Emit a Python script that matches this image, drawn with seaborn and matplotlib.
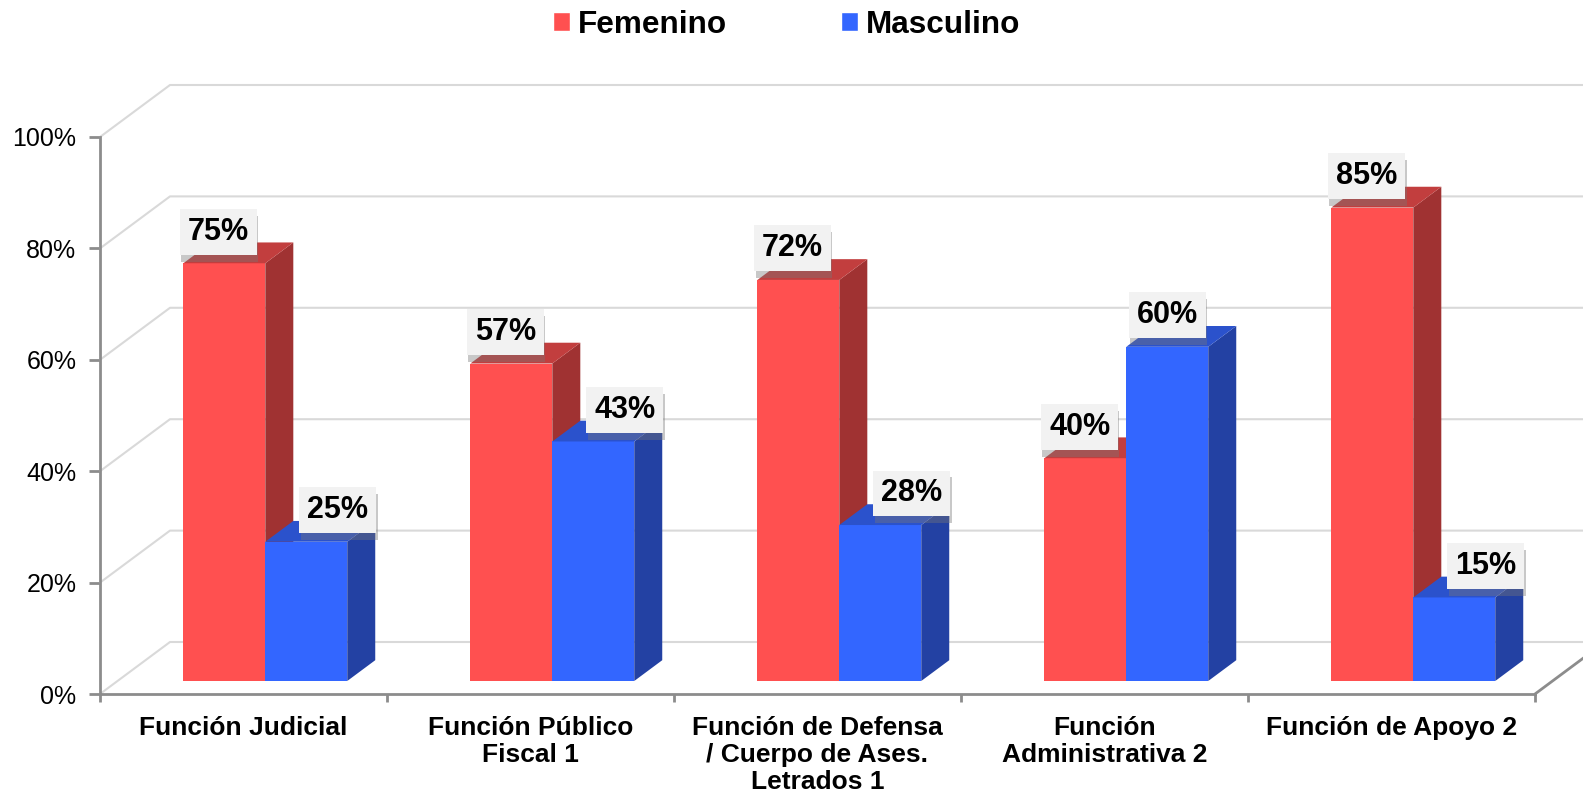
import numpy as np
import pandas as pd
import seaborn as sns
import matplotlib.pyplot as plt
from matplotlib.patches import Polygon
from matplotlib import patheffects as pe

categorias = ["Función Judicial", "Función Público\nFiscal 1",
              "Función de Defensa\n/ Cuerpo de Ases.\nLetrados 1",
              "Función\nAdministrativa 2", "Función de Apoyo 2"]
femenino = [0.75, 0.57, 0.72, 0.40, 0.85]
masculino = [0.25, 0.43, 0.28, 0.60, 0.15]
series = ["Femenino", "Masculino"]
yticks = [0, 0.2, 0.4, 0.6, 0.8, 1.0]
ytick_labels = ["0%", "20%", "40%", "60%", "80%", "100%"]

colores = {"Femenino": "#FF5050", "Masculino": "#3366FF"}
lados = {"Femenino": "#A03232", "Masculino": "#2341A3"}
techos = {"Femenino": "#C23E3E", "Masculino": "#2B52CC"}

df = pd.DataFrame({
    "categoria": categorias * 2,
    "sexo": ["Femenino"] * len(categorias) + ["Masculino"] * len(categorias),
    "valor": femenino + masculino,
})

sns.set_theme(style="white")
plt.rcParams["font.family"] = ["Liberation Sans", "DejaVu Sans"]
plt.rcParams["text.color"] = "black"

fig = plt.figure(figsize=(15.83, 7.99), dpi=100)
ax = fig.add_axes([100 / 1583, 105 / 799, 1435 / 1583, 557 / 799])

sns.barplot(data=df, x="categoria", y="valor", hue="sexo", palette=colores,
            width=0.571, saturation=1, ax=ax)

# pseudo 3d: depth of the floor and of the bars
DX, DY = 70 / 287, 52 / 557
fo, bd = 0.25, 0.40
extra = 0.015

for k, (cont, s) in enumerate(zip(ax.containers, series)):
    for i, p in enumerate(cont.patches):
        x0 = p.get_x() + fo * DX + extra
        y0 = fo * DY
        w, h = p.get_width(), p.get_height()
        p.set_x(x0)
        p.set_y(y0)
        p.set_linewidth(0)
        p.set_zorder(3 + k)
        side = Polygon([(x0 + w, y0), (x0 + w + bd * DX, y0 + bd * DY),
                        (x0 + w + bd * DX, y0 + h + bd * DY), (x0 + w, y0 + h)],
                       closed=True, fc=lados[s], lw=0, zorder=3 + k, clip_on=False)
        top = Polygon([(x0, y0 + h), (x0 + bd * DX, y0 + h + bd * DY),
                       (x0 + w + bd * DX, y0 + h + bd * DY), (x0 + w, y0 + h)],
                      closed=True, fc=techos[s], lw=0, zorder=3 + k, clip_on=False)
        ax.add_patch(side)
        ax.add_patch(top)
        p.set_clip_on(False)

        if s == "Masculino" and h < femenino[i]:
            shift = 0.11
        elif s == "Masculino":
            shift = 0.0
        else:
            shift = -0.02
        t = ax.text(x0 + w / 2 + shift, h + 0.08, f"{h * 100:.0f}%",
                    ha="center", va="center", fontsize=22, fontweight="bold",
                    color="black", zorder=10,
                    bbox=dict(boxstyle="square,pad=0.26", fc="#F2F2F2", ec="none"))
        t.get_bbox_patch().set_path_effects([
            pe.SimplePatchShadow(offset=(1, -5), shadow_rgbFace="#777777", alpha=0.4),
            pe.Normal()])

# back wall, left wall and floor lines
for yv in yticks:
    ax.plot([-0.5, -0.5 + DX, 4.5 + DX], [yv, yv + DY, yv + DY],
            color="#D9D9D9", lw=1.5, clip_on=False, zorder=1)
ax.plot([4.5, 4.5 + DX], [0, DY], color="#8C8C8C", lw=2, clip_on=False, zorder=2)

ax.set_xlim(-0.5, 4.5)
ax.set_ylim(0, 1)
ax.set_xlabel("")
ax.set_ylabel("")

for sp in ["top", "right"]:
    ax.spines[sp].set_visible(False)
for sp in ["left", "bottom"]:
    ax.spines[sp].set_color("#8C8C8C")
    ax.spines[sp].set_linewidth(2)

ax.set_yticks(yticks)
ax.set_yticklabels(ytick_labels)
ax.tick_params(axis="y", left=True, length=8, width=2, color="#8C8C8C",
               labelsize=18, pad=9, direction="out", labelcolor="black")

ax.set_xticks(range(len(categorias)))
ax.set_xticklabels(categorias, fontweight="bold", fontsize=19, linespacing=1.15)
ax.set_xticks(np.arange(-0.5, len(categorias), 1), minor=True)
ax.tick_params(axis="x", which="major", bottom=True, length=0, pad=16,
               labelcolor="black")
ax.tick_params(axis="x", which="minor", bottom=True, length=6, width=2,
               color="#8C8C8C", direction="out")

sns.move_legend(ax, "center", bbox_to_anchor=(0.497, 0.969),
                bbox_transform=fig.transFigure, ncol=2, frameon=False, title=None,
                prop={"weight": "bold", "size": 22.7}, handlelength=0.55,
                handleheight=0.55, handletextpad=0.25, columnspacing=3.6,
                labelcolor="black")

fig.savefig("out.png", dpi=100)
